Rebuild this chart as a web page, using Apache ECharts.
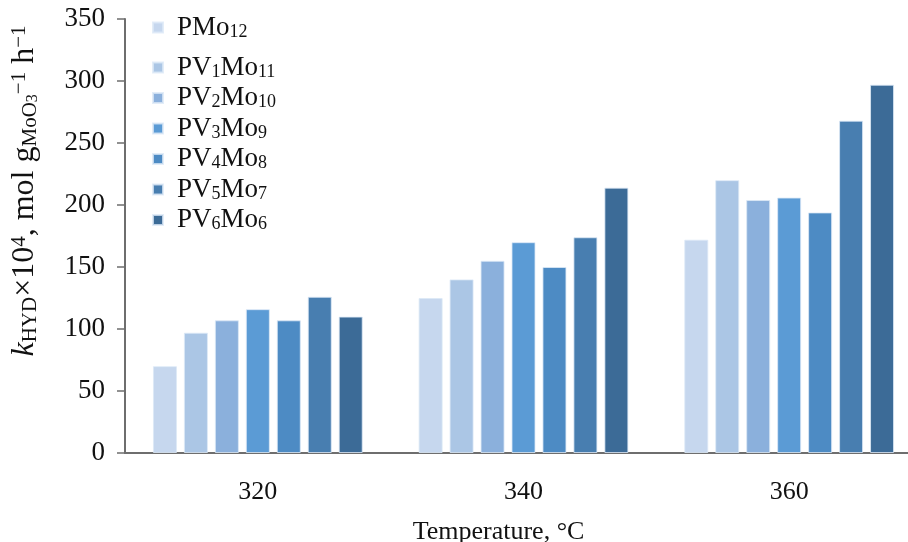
<!DOCTYPE html>
<html>
<head>
<meta charset="utf-8">
<script src="https://cdn.jsdelivr.net/npm/echarts@6/dist/echarts.min.js"></script>
<style>
html,body{margin:0;padding:0;background:#fff;}
#chart{width:908px;height:542px;}
</style>
</head>
<body>
<div id="chart"></div>
<script>
const categories = ['320', '340', '360'];
const seriesNames = ['PMo12', 'PV1Mo11', 'PV2Mo10', 'PV3Mo9', 'PV4Mo8', 'PV5Mo7', 'PV6Mo6'];
const PMo12   = [70, 125, 172];
const PV1Mo11 = [97, 140, 220];
const PV2Mo10 = [107, 155, 204];
const PV3Mo9  = [116, 170, 206];
const PV4Mo8  = [107, 150, 194];
const PV5Mo7  = [126, 174, 268];
const PV6Mo6  = [110, 214, 297];
const seriesValues = [PMo12, PV1Mo11, PV2Mo10, PV3Mo9, PV4Mo8, PV5Mo7, PV6Mo6];
const yTicks = [0, 50, 100, 150, 200, 250, 300, 350];

const colors = ['#c6d7ee', '#abc6e5', '#8bb0dc', '#5b9bd5', '#4d8bc4', '#487eb0', '#3c6b97'];
const FONT = '"Liberation Serif", "Times New Roman", serif';

const chart = echarts.init(document.getElementById('chart'), null, {renderer: 'canvas'});

const series = seriesNames.map((name, i) => ({
  name: name,
  type: 'bar',
  data: seriesValues[i],
  barWidth: 24,
  barGap: '29%',
  itemStyle: {color: colors[i], borderColor: 'rgba(220,232,246,0.8)', borderWidth: 1}
}));

const legendText = {
  fontFamily: FONT,
  fontSize: 27,
  color: '#111',
  padding: [0, 0, 0, 9],
  rich: {
    s: {fontFamily: FONT, fontSize: 18, color: '#111', lineHeight: 6, verticalAlign: 'bottom'}
  }
};
const legendFmt = function (name) { return name.replace(/(\d+)/g, '{s|$1}'); };
const legendBase = {
  orient: 'vertical',
  left: 147,
  icon: 'rect',
  itemWidth: 10,
  itemHeight: 10,
  itemGap: 3.5,
  formatter: legendFmt,
  textStyle: legendText
};

chart.setOption({
  animation: false,
  backgroundColor: '#fff',
  color: colors,
  grid: {left: 125, top: 19, width: 797, height: 434, outerBoundsMode: 'none', containLabel: false},
  legend: [
    Object.assign({}, legendBase, {top: 9, data: seriesNames.slice(0, 1)}),
    Object.assign({}, legendBase, {top: 49, data: seriesNames.slice(1)})
  ],
  xAxis: {
    type: 'category',
    data: categories,
    name: 'Temperature, °C',
    nameLocation: 'middle',
    nameGap: 66,
    nameTextStyle: {fontFamily: FONT, fontSize: 26, color: '#111', padding: [0, 50, 0, 0]},
    axisLine: {lineStyle: {color: '#6e6e6e', width: 2}},
    axisTick: {show: false},
    axisLabel: {fontFamily: FONT, fontSize: 26, color: '#111', margin: 26}
  },
  yAxis: {
    type: 'value',
    min: 0,
    max: 350,
    interval: 50,
    name: '{i|k}{s|HYD}×10{p|4}, mol g{s|MoO}{t|3}{p|−1} h{p|−1}',
    nameLocation: 'middle',
    nameGap: 84,
    nameTextStyle: {
      fontFamily: FONT, fontSize: 32, color: '#111', lineHeight: 32,
      padding: [0, 0, 0, 90],
      rich: {
        i: {fontFamily: FONT, fontSize: 32, fontStyle: 'italic', color: '#111', lineHeight: 32},
        s: {fontFamily: FONT, fontSize: 21, color: '#111', lineHeight: 10, verticalAlign: 'bottom'},
        t: {fontFamily: FONT, fontSize: 16, color: '#111', lineHeight: 2, verticalAlign: 'bottom'},
        p: {fontFamily: FONT, fontSize: 21, color: '#111', lineHeight: 10, verticalAlign: 'top'}
      }
    },
    axisLine: {show: true, lineStyle: {color: '#6e6e6e', width: 2}},
    axisTick: {show: true, length: 8, lineStyle: {color: '#6e6e6e', width: 1.5}},
    splitLine: {show: false},
    axisLabel: {
      fontFamily: FONT, fontSize: 27, color: '#111', margin: 20,
      formatter: function (v) { return yTicks.indexOf(v) >= 0 ? String(v) : ''; }
    }
  },
  series: series
});
</script>
</body>
</html>
